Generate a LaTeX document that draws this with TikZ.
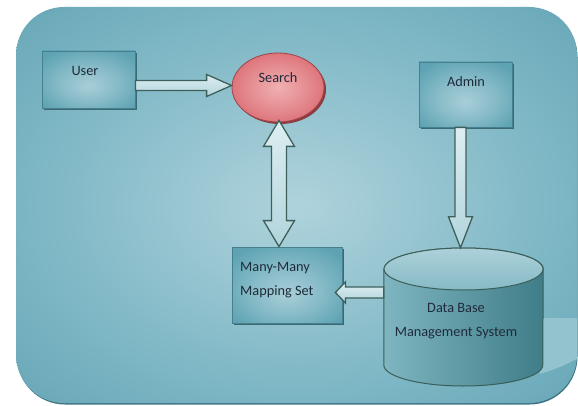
\documentclass[tikz,border=0pt]{standalone}
\usepackage{fontspec}
\setmainfont{Carlito}
\usetikzlibrary{calc,shadows,shapes.geometric}
\definecolor{bgdark}{HTML}{5C9FB1}
\definecolor{bgmid}{HTML}{80B8C6}
\definecolor{bglight}{HTML}{AFD3DC}
\definecolor{bgpatch}{HTML}{92C3CF}
\definecolor{bgshadow}{HTML}{3F7482}
\definecolor{boxdark}{HTML}{5EA3B3}
\definecolor{boxlight}{HTML}{A7CED8}
\definecolor{boxline}{HTML}{47808D}
\definecolor{boxshadow}{HTML}{3B6A72}
\definecolor{redlight}{HTML}{F0B0B2}
\definecolor{reddark}{HTML}{D65E65}
\definecolor{redline}{HTML}{9E4449}
\definecolor{redshadow}{HTML}{8E3A3E}
\definecolor{arrline}{HTML}{3E605B}
\definecolor{arrlight}{HTML}{DDEEF1}
\definecolor{arrdark}{HTML}{B2D4DC}
\definecolor{txt}{HTML}{1F2B3A}
\definecolor{cyltopA}{HTML}{ADD1DA}
\definecolor{cyltopB}{HTML}{86BAC5}
\definecolor{cylbodyA}{HTML}{7EB5C0}
\definecolor{cylbodyB}{HTML}{3F7D88}
\definecolor{cylline}{HTML}{3B5E58}
\pgfdeclareradialshading{bgshade}{\pgfpoint{0bp}{0bp}}{color(0bp)=(bglight); color(22bp)=(bgmid); color(42bp)=(bgdark); color(50bp)=(bgdark)}
\pgfdeclareradialshading{boxshade}{\pgfpoint{0bp}{-6bp}}{color(0bp)=(boxlight); color(16bp)=(boxlight!55!boxdark); color(32bp)=(boxdark); color(50bp)=(boxdark)}
\pgfdeclareradialshading{redshade}{\pgfpoint{0bp}{0bp}}{color(0bp)=(redlight); color(18bp)=(redlight!50!reddark); color(34bp)=(reddark); color(50bp)=(reddark)}
\tikzset{
  lbl/.style={font=\fontsize{14.3pt}{24pt}\selectfont, text=txt, inner sep=0pt},
  box/.style={rectangle, draw=boxline, line width=0.8pt, shading=boxshade, inner sep=0pt,
    drop shadow={shadow xshift=2pt, shadow yshift=-2pt, fill=boxshadow, opacity=1}},
  searchnode/.style={ellipse, draw=redline, line width=0.8pt, shading=redshade, inner sep=0pt,
    drop shadow={shadow xshift=2pt, shadow yshift=-2pt, fill=redshadow, opacity=1}},
  blockarr/.style={draw=arrline, line width=1.3pt, line join=miter, top color=arrlight, bottom color=arrdark},
}
% single block arrow: start, tip, shaft half-width, head half-width, head length
\newcommand{\blockarrow}[5]{%
  \coordinate (ba-A) at (#1);
  \coordinate (ba-B) at (#2);
  \coordinate (ba-H) at ($(ba-B)!#5!(ba-A)$);
  \path[blockarr] ($(ba-A)!#3!90:(ba-B)$) -- ($(ba-H)!#3!90:(ba-B)$) -- ($(ba-H)!#4!90:(ba-B)$)
    -- (ba-B) -- ($(ba-H)!#4!-90:(ba-B)$) -- ($(ba-H)!#3!-90:(ba-B)$) -- ($(ba-A)!#3!-90:(ba-B)$) -- cycle;
}
% double block arrow: tip, tip, shaft half-width, head half-width, head length
\newcommand{\doubleblockarrow}[5]{%
  \coordinate (da-A) at (#1);
  \coordinate (da-B) at (#2);
  \coordinate (da-H) at ($(da-A)!#5!(da-B)$);
  \coordinate (da-K) at ($(da-B)!#5!(da-A)$);
  \path[blockarr] (da-A) -- ($(da-H)!#4!90:(da-B)$) -- ($(da-H)!#3!90:(da-B)$)
    -- ($(da-K)!#3!90:(da-B)$) -- ($(da-K)!#4!90:(da-B)$) -- (da-B)
    -- ($(da-K)!#4!-90:(da-B)$) -- ($(da-K)!#3!-90:(da-B)$)
    -- ($(da-H)!#3!-90:(da-B)$) -- ($(da-H)!#4!-90:(da-B)$) -- cycle;
}
\begin{document}
\begin{tikzpicture}[x=1pt,y=1pt]
\useasboundingbox (0,0) rectangle (578,405);
% background panel
\fill[bgshadow, rounded corners=48pt] (17,0.5) rectangle (577.5,396);
\path[rounded corners=48pt, shading=bgshade] (16,2) rectangle (577,398);
\begin{scope}
  \clip[rounded corners=48pt] (16,2) rectangle (577,398);
  \fill[bgpatch] (540,87) -- (578,87) -- (578,47) .. controls (566,40) and (553,35) .. (540,31) -- cycle;
\end{scope}

% nodes
\node[box, minimum width=93pt, minimum height=57pt] (user) at (88.5,325.5) {};
\node[box, minimum width=93pt, minimum height=65pt] (admin) at (465.5,310.5) {};
\node[box, minimum width=110pt, minimum height=76pt] (many) at (287,120) {};
\node[searchnode, minimum width=92pt, minimum height=69pt] (search) at (278,317.5) {};

% database cylinder
\node[inner sep=0pt, minimum width=159pt, minimum height=138pt] (db) at (463.5,88) {};
\path[draw=cylline, line width=1pt, left color=cylbodyA, right color=cylbodyB]
  (db.west |- 0,136) -- (db.west |- 0,40) arc[start angle=180, end angle=360, x radius=79.5, y radius=21]
  -- (db.east |- 0,136) arc[start angle=0, end angle=180, x radius=79.5, y radius=21] -- cycle;
\path[draw=cylline, line width=1pt, top color=cyltopA, bottom color=cyltopB]
  (db.center |- 0,136) ellipse[x radius=79.5, y radius=21];

% connector end points
\coordinate (userout) at ($(user.east)+(0,-6)$);
\coordinate (searchin) at (userout -| search.west);
\coordinate (searchbot) at ($(search.south)+(1,2)$);
\coordinate (manytop) at (searchbot |- many.north);
\coordinate (adminout) at ($(admin.south)+(-5,0)$);
\coordinate (dbin) at (adminout |- db.north);
\coordinate (dbout) at ($(db.west)+(0,24.5)$);
\coordinate (manyright) at ($(many.east)+(-7,0)$);
\coordinate (manyin) at (dbout -| manyright);

% connectors
\blockarrow{userout}{searchin}{5pt}{11pt}{25pt}
\doubleblockarrow{searchbot}{manytop}{7.5pt}{15.5pt}{26pt}
\blockarrow{adminout}{dbin}{5.5pt}{12pt}{31pt}
\blockarrow{dbout}{manyin}{5.5pt}{10.5pt}{10pt}

% labels
\node[lbl, anchor=base] (userlbl) at (85,329) {User};
\node[lbl, anchor=base] (searchlbl) at (278,322) {Search};
\node[lbl, anchor=base] (adminlbl) at (466,318) {Admin};
\node[lbl, anchor=base west, align=left] (manylbl) at (240,110) {Many-Many\\Mapping Set};
\node[lbl, anchor=base, align=center] (dblbl) at (456,69) {Data Base\\Management System};
\end{tikzpicture}
\end{document}
